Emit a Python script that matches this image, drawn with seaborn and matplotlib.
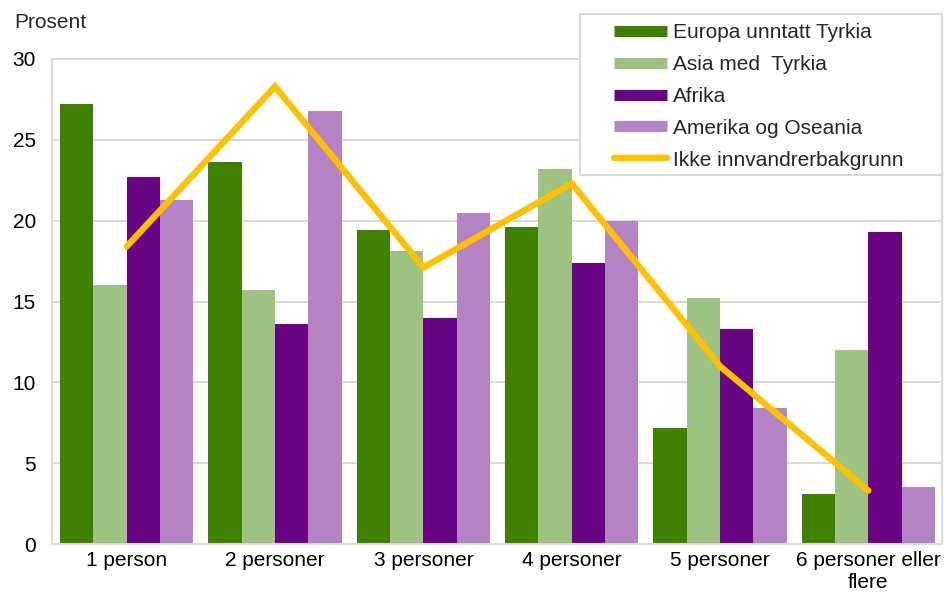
import pandas as pd
import matplotlib
matplotlib.use("Agg")
import matplotlib.pyplot as plt
from matplotlib.lines import Line2D
from matplotlib.patches import Rectangle
import seaborn as sns

# data
kategorier = ["1 person", "2 personer", "3 personer", "4 personer", "5 personer", "6 personer eller\nflere"]
europa = [27.2, 23.6, 19.4, 19.6, 7.2, 3.1]
asia = [16.0, 15.7, 18.1, 23.2, 15.2, 12.0]
afrika = [22.7, 13.6, 14.0, 17.4, 13.3, 19.3]
amerika = [21.3, 26.8, 20.5, 20.0, 8.4, 3.5]
ikke_innv = [18.4, 28.3, 17.1, 22.3, 11.0, 3.3]

serier = ["Europa unntatt Tyrkia", "Asia med  Tyrkia", "Afrika", "Amerika og Oseania"]
farger = ["#3F8000", "#9DC281", "#690584", "#B383C3"]
linjefarge = "#FFC000"

df = pd.DataFrame({
    "kategori": kategorier * 4,
    "serie": [s for s in serier for _ in kategorier],
    "verdi": europa + asia + afrika + amerika,
})

sns.set_style("white")
plt.rcParams["font.family"] = ["Liberation Sans", "DejaVu Sans"]
fs = 15

fig = plt.figure(figsize=(9.45, 5.93), dpi=100)
ax = fig.add_axes([52.5 / 945, 49 / 593, 890 / 945, 485 / 593])

sns.barplot(data=df, x="kategori", y="verdi", hue="serie", order=kategorier,
            hue_order=serier, palette=farger, width=0.9, saturation=1,
            edgecolor="none", linewidth=0, ax=ax, legend=False)
sns.lineplot(x=kategorier, y=ikke_innv, color=linjefarge, linewidth=4.6,
             solid_capstyle="round", solid_joinstyle="miter", ax=ax, zorder=5)

ax.set_ylim(0, 30)
ax.set_xlim(-0.5, 5.5)
ax.set_yticks(range(0, 31, 5))
ax.yaxis.grid(True, color="#D9D9D9", linewidth=1.5)
ax.set_axisbelow(True)
for sp in ax.spines.values():
    sp.set_color("#D9D9D9")
    sp.set_linewidth(1.5)
ax.tick_params(axis="both", length=0, labelsize=fs, colors="black")
ax.tick_params(axis="y", pad=12)
ax.tick_params(axis="x", pad=5)
for lab in ax.get_xticklabels():
    lab.set_linespacing(1.2)
ax.set_xlabel("")
ax.set_ylabel("")
fig.text(14 / 945, 1 - 23 / 593, "Prosent", fontsize=fs, va="center", ha="left")

# legend box (Excel style, wide side padding)
fig.patches.append(Rectangle((580 / 945, 1 - 175 / 593), 362 / 945, 161 / 593,
                             transform=fig.transFigure, facecolor="white",
                             edgecolor="#D9D9D9", linewidth=1.5, zorder=9))
handles = [Line2D([], [], color=c, linewidth=8, solid_capstyle="butt") for c in farger]
handles.append(Line2D([], [], color=linjefarge, linewidth=4.6, solid_capstyle="round"))
leg = fig.legend(handles, serier + ["Ikke innvandrerbakgrunn"], loc="upper left",
                 bbox_to_anchor=(614 / 945, 1 - 23 / 593), fontsize=fs,
                 frameon=False, handlelength=2.55, handletextpad=0.3,
                 labelspacing=0.62, borderpad=0, borderaxespad=0)
leg.set_zorder(10)

fig.savefig("out.png", dpi=100)
